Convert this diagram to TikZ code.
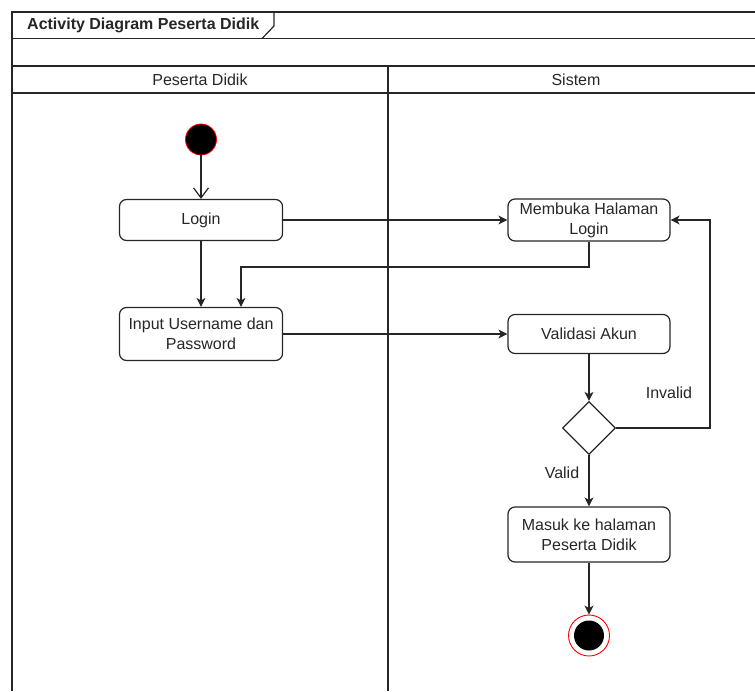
\documentclass[tikz,border=0pt]{standalone}
\usepackage{fontspec}
\setmainfont{Liberation Sans}
\usetikzlibrary{arrows.meta,shapes.geometric}
\begin{document}
\begin{tikzpicture}[x=1pt,y=-1pt,
  txt/.style={font=\fontsize{16}{20}\selectfont, text=black!85},
  frameline/.style={line width=1.2pt, draw=black!85},
  act/.style={txt, draw=black!85, line width=1.2pt, rounded corners=7pt, align=center, inner sep=0pt},
  decision/.style={diamond, draw=black!85, line width=1.2pt, minimum width=53pt, minimum height=53pt, inner sep=0pt},
  flow/.style={line width=1.2pt, draw=black!85, -{Stealth[length=9pt,width=9pt,inset=2.5pt]}},
  openflow/.style={line width=1.2pt, draw=black!85, -{Straight Barb[length=10pt,width=15pt]}},
  lbl/.style={txt, inner sep=0pt}
]
\useasboundingbox (0,0) rectangle (755,691);

% frame, pool header and lane headers
\draw[frameline] (12,691) -- (12,12) -- (755,12);
\draw[frameline] (12,38.5) -- (755,38.5);
\draw[frameline] (12,66) -- (755,66);
\draw[frameline] (12,93) -- (755,93);
\draw[frameline] (388,66) -- (388,691);
\draw[frameline] (274,12) -- (274,26) -- (262,38.5);
\node[txt, font=\fontsize{16}{20}\selectfont\bfseries, anchor=west, inner sep=0pt] (title) at (27,25.5) {Activity Diagram Peserta Didik};
\node[lbl] (laneA) at (200,79.5) {Peserta Didik};
\node[lbl] (laneB) at (576,79.5) {Sistem};

% activity nodes
\node[circle, fill=black, draw=red, line width=0.8pt, minimum size=31pt, inner sep=0pt] (start) at (201,139.5) {};
\node[act, minimum width=163pt, minimum height=41pt] (login) at (201,220) {Login};
\node[act, minimum width=162pt, minimum height=42pt] (buka) at (589,220) {Membuka Halaman\\Login};
\node[act, minimum width=163pt, minimum height=53pt] (input) at (201,334) {Input Username dan\\Password};
\node[act, minimum width=162pt, minimum height=39pt] (valid) at (589,334) {Validasi Akun};
\node[decision] (dec) at (589,428) {};
\node[act, minimum width=162pt, minimum height=55pt] (masuk) at (589,534.5) {Masuk ke halaman\\Peserta Didik};
\node[circle, draw=red, fill=white, line width=0.9pt, minimum size=41pt, inner sep=0pt] (end) at (589,635.5) {};
\fill[black] (end.center) circle (15pt);

% connectors
\coordinate (back) at (241,267);
\coordinate (inv) at (710,428);
\draw[openflow] (start) -- (login);
\draw[flow] (login.east) -- (buka.west);
\draw[flow] (login.south) -- (input.north);
\draw[flow] (buka.south) |- (back) -- (back |- input.north);
\draw[flow] (input.east) -- (valid.west);
\draw[flow] (valid.south) -- (dec.north);
\draw[flow] (dec.east) -- (inv) |- (buka.east);
\draw[flow] (dec.south) -- (masuk.north);
\draw[flow] (masuk.south) -- (end.north);

% guard labels
\node[lbl] (glInvalid) at (669,393) {Invalid};
\node[lbl] (glValid) at (562,473) {Valid};
\end{tikzpicture}
\end{document}
